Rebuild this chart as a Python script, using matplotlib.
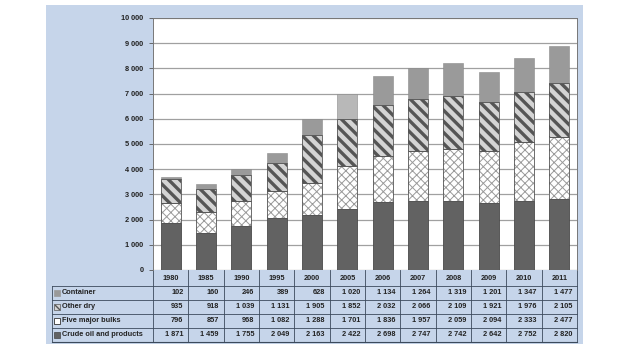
import numpy as np
import matplotlib.pyplot as plt
from matplotlib.patches import Rectangle
from matplotlib import font_manager

years = ["1980", "1985", "1990", "1995", "2000", "2005", "2006", "2007", "2008", "2009", "2010", "2011"]
crude = [1871, 1459, 1755, 2049, 2163, 2422, 2698, 2747, 2742, 2642, 2752, 2820]
five_bulks = [796, 857, 968, 1082, 1288, 1701, 1836, 1957, 2059, 2094, 2333, 2477]
other_dry = [935, 918, 1039, 1131, 1905, 1852, 2032, 2066, 2109, 1921, 1976, 2105]
container = [102, 160, 246, 389, 628, 1020, 1134, 1264, 1319, 1201, 1347, 1477]
yticks = [0, 1000, 2000, 3000, 4000, 5000, 6000, 7000, 8000, 9000, 10000]

names = {f.name for f in font_manager.fontManager.ttflist}
print(sorted(n for n in names if "Liberation" in n))
fam = ["Liberation Sans Narrow"] if "Liberation Sans Narrow" in names else []
plt.rcParams["font.family"] = fam + ["Liberation Sans", "DejaVu Sans"]

W, H = 629, 354
fig = plt.figure(figsize=(W / 100, H / 100), dpi=100)
panel_c = "#c6d5ea"
fs = 5.8 if fam else 5.3

# background panel + table drawn in pixel space
bg = fig.add_axes([0, 0, 1, 1])
bg.set_xlim(0, W)
bg.set_ylim(H, 0)
bg.axis("off")
bg.add_patch(Rectangle((46, 5), 537, 339, facecolor=panel_c, edgecolor="none"))

# chart area
x0, x1, ytop, ybot = 153, 577, 18, 270
ax = fig.add_axes([x0 / W, 1 - ybot / H, (x1 - x0) / W, (ybot - ytop) / H])
ax.set_facecolor("white")
x = np.arange(len(years))
bw = 0.57
crude = np.array(crude)
five_bulks = np.array(five_bulks)
other_dry = np.array(other_dry)
container = np.array(container)

ax.bar(x, crude, bw, color="#626262", edgecolor="#4a4a4a", linewidth=0.6, zorder=3)
b1 = crude
plt.rcParams["hatch.linewidth"] = 0.7
ax.bar(x, five_bulks, bw, bottom=b1, color="white", edgecolor="#9a9a9a", hatch="xxxx", linewidth=0, zorder=3)
ax.bar(x, five_bulks, bw, bottom=b1, fill=False, edgecolor="#555555", linewidth=0.6, zorder=4)
b2 = b1 + five_bulks
plt.rcParams["hatch.linewidth"] = 2.4
ax.bar(x, other_dry, bw, bottom=b2, color="#d4d4d4", edgecolor="#555555", hatch="\\\\\\", linewidth=0, zorder=3)
ax.bar(x, other_dry, bw, bottom=b2, fill=False, edgecolor="#555555", linewidth=0.6, zorder=4)
b3 = b2 + other_dry
cont_colors = ["#9a9a9a"] * len(years)
cont_colors[years.index("2005")] = "#b8b8b8"
ax.bar(x, container, bw, bottom=b3, color=cont_colors, edgecolor="#8a8a8a", linewidth=0.4, zorder=3)

ax.set_xlim(-0.5, len(years) - 0.5)
ax.set_ylim(0, 10000)
ax.set_yticks(yticks)
ax.set_yticklabels([f"{v:,}".replace(",", " ") for v in yticks], fontsize=fs, fontweight="bold", color="#222222")
ax.set_xticks([])
ax.tick_params(axis="y", length=3, width=0.6, color="#555555", pad=4)
ax.yaxis.grid(True, color="#a0a0a0", linewidth=0.9, zorder=0)
for s in ["top", "right", "left"]:
    ax.spines[s].set_color("#777777")
    ax.spines[s].set_linewidth(0.7)
ax.spines["bottom"].set_visible(False)

# data table
colw = (x1 - x0) / len(years)
row_top = [270, 286, 300, 314, 328]
row_h = [16, 14, 14, 14, 14]
tbl_bottom = 342
lab_x0 = 52
line_c = "#3c4a5c"

rows = [("Container", container), ("Other dry", other_dry),
        ("Five major bulks", five_bulks), ("Crude oil and products", crude)]

for i, yr in enumerate(years):
    cx = x0 + colw * (i + 0.5)
    bg.text(cx, row_top[0] + row_h[0] / 2, yr, ha="center", va="center", fontsize=fs, fontweight="bold", color="#222222")
for r, (lab, vals) in enumerate(rows):
    yc = row_top[r + 1] + row_h[r + 1] / 2
    bg.text(lab_x0 + 10, yc, lab, ha="left", va="center", fontsize=fs, fontweight="bold", color="#222222")
    for i, v in enumerate(vals):
        cx = x0 + colw * (i + 1) - 5
        bg.text(cx, yc, f"{v:,}".replace(",", " "), ha="right", va="center", fontsize=fs, fontweight="bold", color="#222222")

# legend keys in the label column
plt.rcParams["hatch.linewidth"] = 1.0
key_y = [row_top[k] + row_h[k] / 2 - 3 for k in range(1, 5)]
bg.add_patch(Rectangle((lab_x0 + 2, key_y[0]), 6, 6, facecolor="#9a9a9a", edgecolor="#9a9a9a", linewidth=0.5))
bg.add_patch(Rectangle((lab_x0 + 2, key_y[1]), 6, 6, facecolor="#d4d4d4", edgecolor="#555555", hatch="\\\\", linewidth=0.5))
bg.add_patch(Rectangle((lab_x0 + 2, key_y[2]), 6, 6, facecolor="white", edgecolor="#333333", linewidth=0.6))
bg.add_patch(Rectangle((lab_x0 + 2, key_y[3]), 6, 6, facecolor="#626262", edgecolor="#444444", linewidth=0.5))

# grid lines of the table
for k in range(1, 5):
    bg.plot([lab_x0, x1], [row_top[k], row_top[k]], color=line_c, linewidth=0.6)
bg.plot([lab_x0, x1], [tbl_bottom, tbl_bottom], color=line_c, linewidth=0.8)
bg.plot([lab_x0, lab_x0], [row_top[1], tbl_bottom], color=line_c, linewidth=0.6)
for i in range(len(years) + 1):
    xv = x0 + colw * i
    bg.plot([xv, xv], [row_top[0], tbl_bottom], color=line_c, linewidth=0.6)

fig.savefig("out.png", dpi=100)
